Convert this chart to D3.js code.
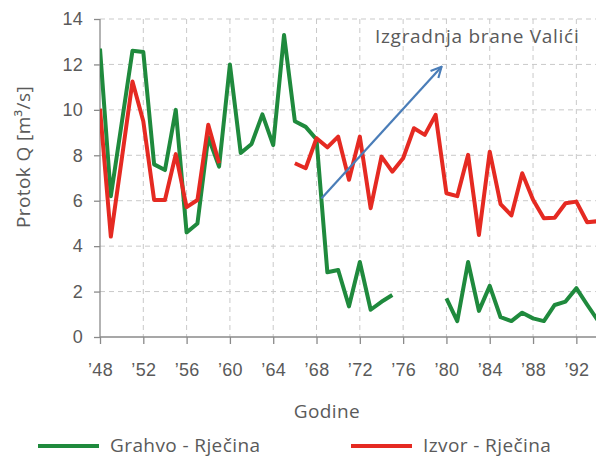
<!DOCTYPE html>
<html>
<head>
<meta charset="utf-8">
<script src="https://cdn.jsdelivr.net/npm/d3@7"></script>
<style>
  body { margin: 0; background: #fff; }
  svg { font-family: "Open Sans", sans-serif; }
  .grid line { stroke: #c9c9c9; stroke-dasharray: 5,4; stroke-width: 1; }
  .axis path, .axis line { stroke: #8a8a8a; stroke-width: 1.3; }
  .axis text { fill: #5a5a5a; font-size: 18px; letter-spacing: 0.3px; }
  .lbl { fill: #5a5a5a; font-size: 19px; letter-spacing: 0.4px; }
</style>
</head>
<body>
<svg id="chart" width="596" height="458"></svg>
<script>
// Godine 1948..1994, null = nema podataka
const years = d3.range(1948, 1995);

const grahvo = [
  12.7, 6.2, 9.4, 12.6, 12.55, 7.6, 7.35, 10.0, 4.6, 5.0,
  8.8, 7.5, 12.0, 8.1, 8.5, 9.8, 8.45, 13.3, 9.5, 9.25,
  8.7, 2.85, 2.95, 1.35, 3.3, 1.2, 1.55, 1.85, null, null,
  null, null, 1.7, 0.7, 3.3, 1.15, 2.25, 0.87, 0.7, 1.07,
  0.82, 0.7, 1.41, 1.56, 2.15, 1.42, 0.72
];

const izvor = [
  10.05, 4.42, 7.8, 11.25, 9.5, 6.03, 6.03, 8.05, 5.72, 6.03,
  9.34, 7.65, null, null, null, null, null, null, 7.65, 7.43,
  8.75, 8.35, 8.82, 6.92, 8.82, 5.67, 7.94, 7.28, 7.87, 9.19,
  8.9, 9.78, 6.33, 6.2, 8.02, 4.49, 8.16, 5.85, 5.35, 7.21,
  6.04, 5.23, 5.25, 5.89, 5.96, 5.05, 5.1
];

const xTicks = d3.range(1948, 1993, 4);
const yTicks = [0, 2, 4, 6, 8, 10, 12, 14];

const series = [
  { name: "Grahvo - Rječina", color: "#1f8a3d", values: grahvo },
  { name: "Izvor - Rječina", color: "#e52a22", values: izvor }
];

// strelica: izgradnja brane (godina, protok)
const arrowFrom = [1968.45, 6.1];
const arrowTo = [1979.55, 11.9];
const arrowText = "Izgradnja brane Valići";

const svg = d3.select("#chart");
const mLeft = 100, mRight = 598, mTop = 19, mBottom = 337, W = 596;

const x = d3.scaleLinear().domain([1948, 1994]).range([mLeft, mRight]);
const y = d3.scaleLinear().domain([0, 14]).range([mBottom, mTop]);

// mreza
svg.append("g").attr("class", "grid")
  .selectAll("line").data(yTicks.slice(1)).join("line")
  .attr("x1", mLeft).attr("x2", W)
  .attr("y1", d => y(d)).attr("y2", d => y(d));

svg.append("g").attr("class", "grid")
  .selectAll("line").data(xTicks.slice(1)).join("line")
  .attr("x1", d => x(d)).attr("x2", d => x(d))
  .attr("y1", mTop).attr("y2", mBottom);

// ose
const xAxis = svg.append("g").attr("class", "axis")
  .attr("transform", `translate(0,${mBottom})`)
  .call(d3.axisBottom(x).tickValues(xTicks).tickSize(7).tickPadding(19)
    .tickFormat(d => "\u2019" + String(d).slice(2)));
xAxis.select(".domain").attr("d", `M${mLeft},0H${W}`);

const yAxis = svg.append("g").attr("class", "axis")
  .attr("transform", `translate(${mLeft},0)`)
  .call(d3.axisLeft(y).tickValues(yTicks).tickSize(6).tickPadding(11));
yAxis.select(".domain").attr("d", `M0,${mTop}V${mBottom}`);

svg.append("text").attr("class", "lbl")
  .attr("transform", `translate(30,157) rotate(-90)`)
  .attr("text-anchor", "middle")
  .text("Protok Q [m\u00b3/s]");

svg.append("text").attr("class", "lbl")
  .attr("x", 327).attr("y", 418)
  .attr("text-anchor", "middle")
  .text("Godine");

// linije
const line = d3.line()
  .defined(d => d[1] !== null)
  .x(d => x(d[0]))
  .y(d => y(d[1]));

svg.append("defs").append("clipPath").attr("id", "clip")
  .append("rect").attr("x", mLeft).attr("y", 0).attr("width", W - mLeft).attr("height", mBottom + 2);

svg.append("g").attr("clip-path", "url(#clip)")
  .selectAll("path").data(series).join("path")
  .attr("fill", "none")
  .attr("stroke", d => d.color)
  .attr("stroke-width", 4)
  .attr("stroke-linejoin", "round")
  .attr("d", d => line(years.map((yr, i) => [yr, d.values[i]])));

// strelica
svg.append("defs").append("marker")
  .attr("id", "head").attr("viewBox", "0 0 10 10")
  .attr("refX", 9).attr("refY", 5)
  .attr("markerWidth", 6).attr("markerHeight", 6)
  .attr("orient", "auto")
  .append("path").attr("d", "M1,1L9,5L1,9")
  .attr("fill", "none").attr("stroke", "#4a7db8").attr("stroke-width", 1.6);

svg.append("line")
  .attr("x1", x(arrowFrom[0])).attr("y1", y(arrowFrom[1]))
  .attr("x2", x(arrowTo[0])).attr("y2", y(arrowTo[1]))
  .attr("stroke", "#4a7db8").attr("stroke-width", 2.2)
  .attr("marker-end", "url(#head)");

svg.append("text").attr("class", "lbl")
  .attr("x", 375).attr("y", 43)
  .style("letter-spacing", "0.7px")
  .attr("font-size", 18)
  .text(arrowText);

// legenda
const legend = svg.append("g").selectAll("g").data(series).join("g")
  .attr("transform", (d, i) => `translate(${i ? 351 : 38},446)`);
legend.append("line")
  .attr("x1", 0).attr("x2", 61)
  .attr("stroke", d => d.color).attr("stroke-width", 4);
legend.append("text").attr("class", "lbl")
  .attr("x", 72).attr("y", 6)
  .text(d => d.name);
</script>
</body>
</html>
